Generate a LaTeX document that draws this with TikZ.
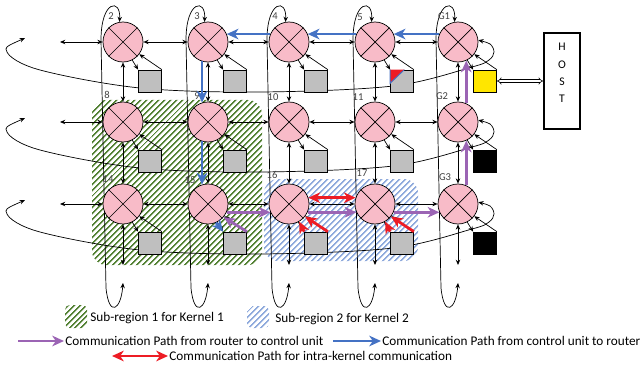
\documentclass[tikz,border=0pt]{standalone}
\usepackage{fontspec}
\setmainfont{Carlito}
\usetikzlibrary{arrows.meta,patterns.meta,calc}

\definecolor{routerpink}{RGB}{248,187,200}
\definecolor{cugray}{RGB}{191,191,191}
\definecolor{cuyellow}{RGB}{255,230,0}
\definecolor{kgreen}{RGB}{84,130,53}
\definecolor{kblue}{RGB}{143,170,220}
\definecolor{pathblue}{RGB}{68,114,196}
\definecolor{pathpurple}{RGB}{155,100,180}
\definecolor{pathred}{RGB}{237,28,36}
\definecolor{numgray}{RGB}{64,64,64}

\pgfdeclarelayer{regions}
\pgfdeclarelayer{wires}
\pgfsetlayers{regions,wires,main}

\begin{document}
\begin{tikzpicture}[
    x=0.03cm, y=-0.03cm,
    router/.style={circle, draw, fill=routerpink, minimum size=1.2cm, inner sep=0pt, line width=0.6pt},
    cu/.style={draw, minimum width=0.69cm, minimum height=0.66cm, inner sep=0pt, line width=0.6pt},
    num/.style={font=\fontsize{9}{10}\selectfont, text=numgray, inner sep=0pt},
    lgtext/.style={font=\fontsize{11.3}{13.5}\selectfont, anchor=west, inner sep=1pt},
    link/.style={line width=0.6pt, {Stealth[length=4.5pt,width=3.8pt]}-{Stealth[length=4.5pt,width=3.8pt]}},
    tocu/.style={line width=0.6pt, -{Stealth[length=4.5pt,width=3.8pt]}},
    r2cu/.style={line width=2.4pt, pathpurple, -{Stealth[length=10pt,width=9pt,inset=3pt]}},
    cu2r/.style={line width=2.4pt, pathblue, -{Stealth[length=10pt,width=9pt,inset=3pt]}},
    intra/.style={line width=2.4pt, pathred, {Stealth[length=10pt,width=9pt,inset=3pt]}-{Stealth[length=10pt,width=9pt,inset=3pt]}},
    intraup/.style={line width=2.4pt, pathred, -{Stealth[length=10pt,width=9pt,inset=3pt]}},
    kernelA/.style={pattern={Lines[angle=45,distance=4pt,line width=1.6pt]}, pattern color=kgreen, rounded corners=12pt},
    kernelB/.style={pattern={Lines[angle=45,distance=4pt,line width=1.6pt]}, pattern color=kblue, rounded corners=12pt},
    hostbox/.style={draw, line width=1.4pt, minimum width=1.08cm, minimum height=2.88cm, inner sep=0pt},
    hostlink/.style={double, double distance=1.6pt, line width=0.5pt, {Implies}-{Implies}}
]
\useasboundingbox (0,0) rectangle (642,368);

% routers, control units and their two links
\foreach \lab/\x/\y/\f in {2/123/42/cugray, 3/208/42/cugray, 4/289/42/cugray, 5/375/42/cugray, G1/458/42/cuyellow,
    8/123/122/cugray, 9/208/122/cugray, 10/289/122/cugray, 11/375/122/cugray, G2/458/122/black,
    14/123/204/cugray, 15/208/204/cugray, 16/289/204/cugray, 17/375/204/cugray, G3/458/204/black} {
  \node[router] (r\lab) at (\x,\y) {};
  \draw[line width=0.6pt] (r\lab.45) -- (r\lab.225) (r\lab.135) -- (r\lab.315);
  \node[cu, fill=\f] (cu\lab) at (\x+27,\y+39) {};
  \draw[tocu] (r\lab.297) -- (cu\lab.north west);
  \draw[tocu] (cu\lab.north east) -- (r\lab.323);
}

% red corner on the control unit of router 5
\fill[pathred] (cu5.north west) -- ($(cu5.north west)!0.6!(cu5.north east)$) -- ($(cu5.north west)!0.6!(cu5.south west)$) -- cycle;
\draw[pathblue, line width=0.8pt] (cu5.north west) -- ($(cu5.north west)!0.6!(cu5.south west)$) -- ($(cu5.north west)!0.6!(cu5.north east)$);

% router numbers
\foreach \lab/\x/\y in {2/111/16, 3/197/16, 4/275/16, 5/360/17, G1/444/16,
    8/107/95, 9/197/96, 10/273/97, 11/358/97, G2/442/96,
    14/108/179, 15/190/180, 16/272/175, 17/362/173, G3/445/177}
  \node[num] (n\lab) at (\x,\y) {\lab};

% mesh links
\foreach \a/\b in {2/3,3/4,4/5,5/G1,8/9,9/10,10/11,11/G2,14/15,15/16,16/17,17/G3,
    2/8,3/9,4/10,5/11,G1/G2,8/14,9/15,10/16,11/17,G2/G3}
  \draw[link] (r\a) -- (r\b);

\foreach \lab/\y in {2/42, 8/122, 14/204} {
  \coordinate (w\lab) at (60,\y);
  \draw[link] (w\lab) -- (r\lab.west);
}

\begin{pgfonlayer}{wires}
% wrap-around of the columns
\foreach \tp/\bt/\x in {2/14/123, 3/15/208, 4/16/289, 5/17/375, G1/G3/458} {
  \coordinate (s\bt) at (\x,265);
  \draw[link] (r\bt.south) -- (s\bt);
  \coordinate (u\bt) at (\x,283);
  \draw[link] (u\bt) .. controls (\x-2,310) and (\x-14,318) .. (\x-17,288)
    -- (\x-22,40) .. controls (\x-22,0) and (\x-2,-2) .. (r\tp.100);
}
% wrap-around of the rows
\foreach \g/\y in {G1/42, G2/122, G3/204} {
  \coordinate (e\g) at (25,\y-4);
  \draw[link] plot[smooth, tension=0.55] coordinates {(e\g) (7,\y+10) (40,\y+28) (140,\y+46) (260,\y+50)
    (393,\y+44) (472,\y+25) (489,\y+18) (494,\y+10) (490,\y+2) (r\g.5)};
}
\end{pgfonlayer}

\begin{pgfonlayer}{regions}
\path[kernelA] (92,100) rectangle (262,265);
\path[kernelB] (264,179) rectangle (418,261);
\end{pgfonlayer}

% communication paths
\draw[cu2r] (rG1.157) -- (r5.23);
\draw[cu2r] (r5.157) -- (r4.23);
\draw[cu2r] (r4.157) -- (r3.23);
\draw[cu2r] (r3.253) -- (r9.107);
\draw[cu2r] (r9.253) -- (r15.107);
\draw[cu2r] (r15.293) -- (cu15.north west);

\draw[r2cu] (cu15.north east) -- (r15.320);
\draw[r2cu] (r15.336) -- (r16.204);
\draw[r2cu] (r16.336) -- (r17.204);
\draw[r2cu] (r17.336) -- (rG3.204);
\draw[r2cu] (rG3.66) -- (rG2.294);
\draw[r2cu] (rG2.66) -- (rG1.294);

\draw[intra] (r16.18) -- (r17.162);
\draw[intraup] (cu16.north west) -- (r16.300);
\draw[intraup] (cu16.north east) -- (r16.322);
\draw[intraup] (cu17.north west) -- (r17.300);
\draw[intraup] (cu17.north east) -- (r17.322);

% host
\node[hostbox] (host) at (562,81) {};
\node[font=\fontsize{10}{14.7}\selectfont, align=center, inner sep=0pt] (hosttxt) at ($(host.center)+(0,-8)$) {H\\O\\S\\T};
\draw[hostlink] (cuG1.east) -- (host.west |- cuG1.east);

% legend
\path[kernelA, rounded corners=4pt] (65,305) rectangle (87,328);
\node[lgtext] (lgA) at (89,318) {Sub-region 1 for Kernel 1};
\path[kernelB, rounded corners=4pt] (247,306) rectangle (269,328);
\node[lgtext] (lgB) at (274,319) {Sub-region 2 for Kernel 2};
\node[lgtext] (lgP) at (64,341) {Communication Path from router to control unit};
\coordinate (lgPs) at (18,341);
\draw[r2cu] (lgPs) -- (lgP.west);
\node[lgtext] (lgU) at (381,341) {Communication Path from control unit to router};
\coordinate (lgUs) at (333,341);
\draw[cu2r] (lgUs) -- (lgU.west);
\node[lgtext] (lgR) at (168,356) {Communication Path for intra-kernel communication};
\coordinate (lgRs) at (112,356);
\draw[intra] (lgRs) -- (lgR.west);
\end{tikzpicture}
\end{document}
